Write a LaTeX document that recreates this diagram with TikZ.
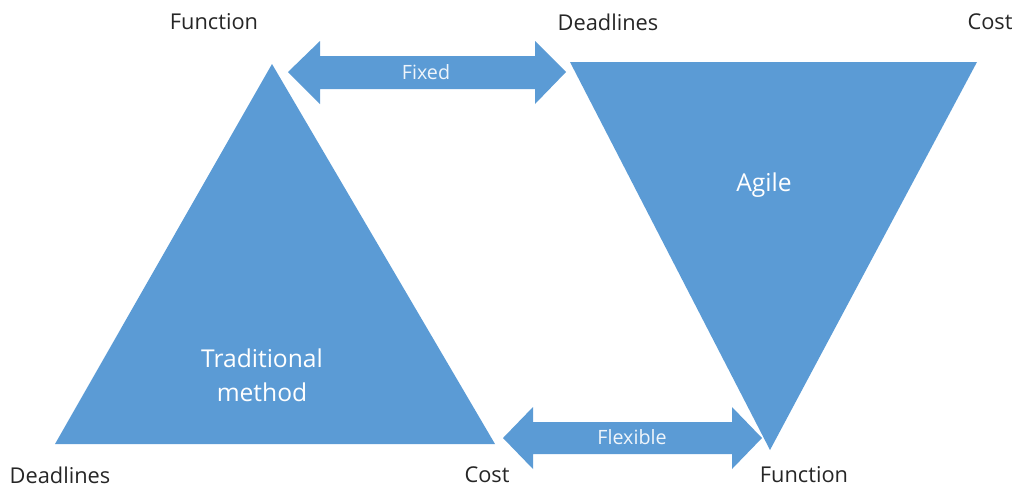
\documentclass[tikz,border=0pt]{standalone}
\usepackage{fontspec}
\setmainfont{Open Sans}
\usetikzlibrary{positioning}
\definecolor{officeblue}{HTML}{5B9BD5}

\begin{document}
\begin{tikzpicture}[
		x=0.025cm, y=-0.025cm,
		bluefill/.style={fill=officeblue, draw=none},
		cornertext/.style={font=\fontsize{15.5}{18}\selectfont, text=black!85},
		insidetext/.style={font=\fontsize{17.5}{24}\selectfont, text=white, align=center},
		arrowtext/.style={font=\fontsize{14}{16}\selectfont, text=white!90!officeblue}
	]
	
		\useasboundingbox (0,0) rectangle (1019,489);
		
		% Triangles
		\fill[bluefill] (272,64) -- (495,444) -- (55,444) -- cycle;
		\fill[bluefill] (570,62) -- (977,62) -- (770,450) -- cycle;
		
		% Arrows
		\fill[bluefill] (288,72) -- (320,41) -- (320,56) -- (535,56) -- (535,41) -- (566,72)
			-- (535,104) -- (535,89) -- (320,89) -- (320,104) -- cycle;
		\fill[bluefill] (503,438) -- (533,407) -- (533,422) -- (732,422) -- (732,407) -- (762,438)
			-- (732,469) -- (732,454) -- (533,454) -- (533,469) -- cycle;
		
		% Labels
		\node[cornertext] (funtop) at (214,22) {Function};
		\node[cornertext] (deadtop) at (608,22) {Deadlines};
		\node[cornertext] (costtop) at (990,22) {Cost};
		\node[cornertext] (deadbot) at (60,475) {Deadlines};
		\node[cornertext] (costbot) at (487,475) {Cost};
		\node[cornertext] (funbot) at (804,475) {Function};
		
		\node[insidetext] (agile) at (764,185) {Agile};
		\node[insidetext] (trad) at (262,375) {Traditional\\method};
		
		\node[arrowtext] (fixed) at (426,72) {Fixed};
		\node[arrowtext] (flex) at (632,437) {Flexible};
		
	\end{tikzpicture}
\end{document}
